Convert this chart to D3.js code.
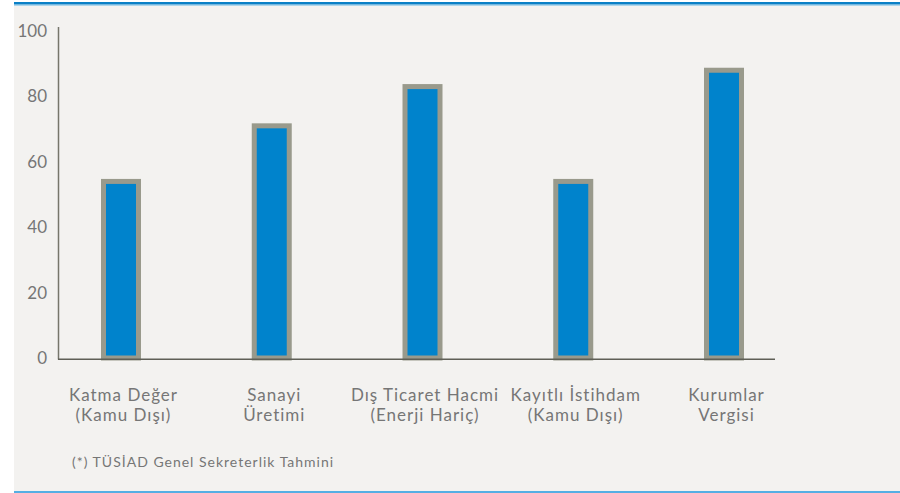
<!DOCTYPE html>
<html><head><meta charset="utf-8">
<script src="https://cdn.jsdelivr.net/npm/d3@7"></script>
<style>
html,body{margin:0;padding:0;background:#fff;}
svg{display:block;font-family:Lato,"Noto Sans",sans-serif;}
</style></head>
<body>
<svg id="chart" width="900" height="493"></svg>
<script>
const categories = [
  ["Katma Değer","(Kamu Dışı)"],
  ["Sanayi","Üretimi"],
  ["Dış Ticaret Hacmi","(Enerji Hariç)"],
  ["Kayıtlı İstihdam","(Kamu Dışı)"],
  ["Kurumlar","Vergisi"]
];
const values = [54, 71, 83, 54, 88];
const yTicks = [0, 20, 40, 60, 80, 100];
const footnote = "(*) TÜSİAD Genel Sekreterlik Tahmini";

const svg = d3.select("#chart");
// panel
svg.append("rect").attr("x",14).attr("y",2).attr("width",886).attr("height",490).attr("fill","#f3f2f0");
svg.append("rect").attr("x",14).attr("y",2).attr("width",886).attr("height",2.5).attr("fill","#0a80c6");
svg.append("rect").attr("x",14).attr("y",4.5).attr("width",886).attr("height",1).attr("fill","#6bb7e4");
svg.append("rect").attr("x",14).attr("y",491).attr("width",886).attr("height",2).attr("fill","#55aee3");

const y = d3.scaleLinear().domain([0,100]).range([358,31]);
const idx = d3.range(categories.length);
const x = d3.scalePoint().domain(idx).range([121, 724]);

// bars
const bw = 35;
svg.append("g").selectAll("rect").data(values).join("rect")
  .attr("x",(d,i)=>x(i)-bw/2)
  .attr("y",d=>y(d))
  .attr("width",bw)
  .attr("height",d=>y(0)-y(d))
  .attr("fill","#0083cc")
  .attr("stroke","#999a8c")
  .attr("stroke-width",5);

// y axis
const yAxis = d3.axisLeft(y).tickValues(yTicks).tickSize(0).tickPadding(11);
const gy = svg.append("g").attr("transform","translate(58,0)").call(yAxis);
gy.select(".domain").remove();
gy.selectAll("text").attr("fill","#767676").attr("font-size",17).attr("font-family","Lato,sans-serif");
svg.append("line").attr("x1",58.5).attr("x2",58.5).attr("y1",27).attr("y2",y(0)+1.5)
  .attr("stroke","#76766b").attr("stroke-width",1.5);
// x axis line
svg.append("line").attr("x1",58).attr("x2",775).attr("y1",y(0)+1.2).attr("y2",y(0)+1.2)
  .attr("stroke","#5f5f56").attr("stroke-width",1.6);

// category labels
const lab = svg.append("g").selectAll("text").data(categories).join("text")
  .attr("x",(d,i)=>x(i)+2.5)
  .attr("y",401)
  .attr("text-anchor","middle")
  .attr("fill","#767676")
  .attr("font-size",17)
  .attr("letter-spacing",1);
lab.selectAll("tspan").data(d=>d).join("tspan")
  .attr("x",function(){return this.parentNode.getAttribute("x");})
  .attr("dy",(d,i)=>i===0?0:20)
  .text(d=>d);

svg.append("text").attr("x",72).attr("y",467).attr("fill","#767676").attr("font-size",14)
  .attr("letter-spacing",1).text(footnote);
</script>
</body></html>
